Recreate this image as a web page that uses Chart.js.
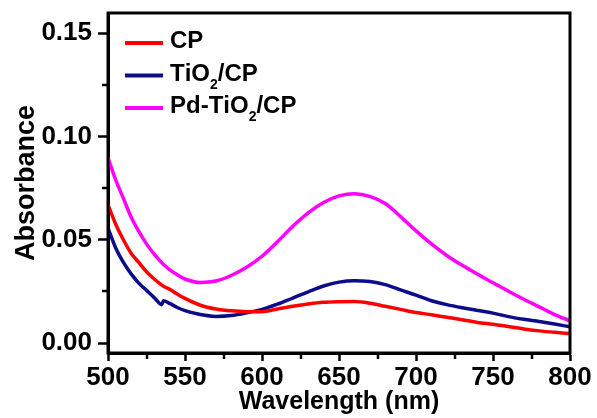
<!DOCTYPE html>
<html>
<head>
<meta charset="utf-8">
<script src="https://cdn.jsdelivr.net/npm/chart.js@4.4.1/dist/chart.umd.min.js"></script>
<style>
  html, body { margin: 0; padding: 0; background: #fff; }
  #wrap { width: 597px; height: 418px; }
</style>
</head>
<body>
<div id="wrap"><canvas id="absChart" width="597" height="418"></canvas></div>
<script>
// UV-vis absorbance spectra
const wavelengths = [500, 505, 510, 515, 520, 525, 530, 535, 536, 540, 545, 550, 560, 570, 580, 590, 600,
  610, 620, 630, 640, 650, 660, 670, 680, 690, 700, 710, 720, 730, 740, 750, 760, 770, 780, 790, 800];

const cpAbs = [0.067, 0.0575, 0.050, 0.0435, 0.039, 0.0345, 0.031, 0.028, 0.0275, 0.026, 0.0237, 0.0216, 0.0183, 0.0165, 0.0156, 0.0152, 0.0152,
  0.0165, 0.0178, 0.0189, 0.0197, 0.0200, 0.0201, 0.0193, 0.0178, 0.0163, 0.0148, 0.0137, 0.0125, 0.0113, 0.0100, 0.0091, 0.0080, 0.0068, 0.0059, 0.0052, 0.0046];

const tio2Abs = [0.0556, 0.046, 0.039, 0.0335, 0.029, 0.0255, 0.022, 0.0186, 0.0205, 0.0192, 0.0172, 0.0157, 0.0138, 0.0129, 0.0133, 0.0146, 0.0163,
  0.0188, 0.0218, 0.0248, 0.0276, 0.0295, 0.0302, 0.0298, 0.0283, 0.0257, 0.0232, 0.0205, 0.0186, 0.0171, 0.0158, 0.0145, 0.0128, 0.0115, 0.0104, 0.0092, 0.0079];

const pdTio2Abs = [0.0896, 0.079, 0.070, 0.061, 0.054, 0.048, 0.043, 0.0388, 0.0381, 0.0355, 0.033, 0.031, 0.0293, 0.030, 0.0327, 0.0367, 0.042,
  0.049, 0.0565, 0.063, 0.068, 0.0712, 0.0723, 0.071, 0.0675, 0.0612, 0.0543, 0.0480, 0.0424, 0.0376, 0.0333, 0.0292, 0.0251, 0.0212, 0.0175, 0.0138, 0.0108];

const seriesLabels = ['CP', 'TiO₂/CP', 'Pd-TiO₂/CP'];
const seriesColors = ['#ff0000', '#0c0c8a', '#ff00ff'];

const xTicks = [500, 550, 600, 650, 700, 750, 800];
const xMinorTicks = [525, 575, 625, 675, 725, 775];
const yTicks = [0, 0.05, 0.10, 0.15];
const yMinorTicks = [0.025, 0.075, 0.125];

const FONT = "'Liberation Sans', Arial, sans-serif";

function toPoints(ys) {
  return wavelengths.map((x, i) => ({ x: x, y: ys[i] }));
}

// closed frame + short minor ticks on the bottom and left axes
const framePlugin = {
  id: 'frame',
  afterDraw(chart) {
    const { ctx, chartArea: a, scales } = chart;
    ctx.save();
    ctx.strokeStyle = '#000';
    ctx.lineWidth = 3;
    ctx.strokeRect(a.left, a.top, a.right - a.left, a.bottom - a.top);
    ctx.lineWidth = 2.5;
    ctx.beginPath();
    xMinorTicks.forEach(v => {
      const px = Math.round(scales.x.getPixelForValue(v));
      ctx.moveTo(px, a.bottom);
      ctx.lineTo(px, a.bottom + 6);
    });
    yMinorTicks.forEach(v => {
      const py = Math.round(scales.y.getPixelForValue(v));
      ctx.moveTo(a.left, py);
      ctx.lineTo(a.left - 6, py);
    });
    ctx.stroke();
    ctx.restore();
  }
};

// writes a label, turning ₂ into a lowered small digit
function drawLabel(ctx, text, x, y) {
  const big = 'bold 24px ' + FONT;
  const small = 'bold 14px ' + FONT;
  for (const ch of text) {
    if (ch === '₂') {
      ctx.font = small;
      ctx.fillText('2', x, y + 8);
      x += ctx.measureText('2').width;
    } else {
      ctx.font = big;
      ctx.fillText(ch, x, y);
      x += ctx.measureText(ch).width;
    }
  }
}

const legendPlugin = {
  id: 'lineLegend',
  afterDatasetsDraw(chart) {
    const { ctx, chartArea: a } = chart;
    ctx.save();
    ctx.textBaseline = 'alphabetic';
    ctx.fillStyle = '#000';
    chart.data.datasets.forEach((ds, i) => {
      const y = a.top + 30 + i * 32.5;
      ctx.strokeStyle = ds.borderColor;
      ctx.lineWidth = 4;
      ctx.beginPath();
      ctx.moveTo(a.left + 17, y);
      ctx.lineTo(a.left + 55, y);
      ctx.stroke();
      drawLabel(ctx, ds.label, a.left + 62, y + 5);
    });
    ctx.restore();
  }
};

new Chart(document.getElementById('absChart'), {
  type: 'line',
  data: {
    datasets: [
      { label: seriesLabels[0], data: toPoints(cpAbs), borderColor: seriesColors[0] },
      { label: seriesLabels[1], data: toPoints(tio2Abs), borderColor: seriesColors[1] },
      { label: seriesLabels[2], data: toPoints(pdTio2Abs), borderColor: seriesColors[2] }
    ]
  },
  options: {
    responsive: false,
    animation: false,
    devicePixelRatio: 1,
    layout: { padding: { top: 13, right: 27, left: 0, bottom: 0 } },
    elements: {
      point: { radius: 0 },
      line: { borderWidth: 3.5, cubicInterpolationMode: 'monotone', fill: false }
    },
    plugins: {
      legend: { display: false },
      tooltip: { enabled: false }
    },
    scales: {
      x: {
        type: 'linear',
        min: 500,
        max: 800,
        afterBuildTicks: s => { s.ticks = xTicks.map(v => ({ value: v })); },
        afterFit: s => { s.height = 65; s.paddingLeft = 0; s.paddingRight = 0; },
        grid: { drawOnChartArea: false, drawTicks: true, tickLength: 8, tickWidth: 2.5, tickColor: '#000' },
        border: { display: true, width: 3, color: '#000' },
        ticks: {
          color: '#000',
          padding: 1,
          maxRotation: 0,
          font: { family: FONT, size: 26, weight: 'bold' },
          callback: v => String(v)
        },
        title: {
          display: true,
          text: 'Wavelength (nm)',
          color: '#000',
          padding: { top: 0, bottom: 1 },
          font: { family: FONT, size: 25, weight: 'bold' }
        }
      },
      y: {
        min: -0.0048,
        max: 0.1597,
        afterBuildTicks: s => { s.ticks = yTicks.map(v => ({ value: v })); },
        afterFit: s => { s.width = 108; s.paddingTop = 0; s.paddingBottom = 0; },
        grid: { drawOnChartArea: false, drawTicks: true, tickLength: 10, tickWidth: 2.5, tickColor: '#000' },
        border: { display: true, width: 3, color: '#000' },
        ticks: {
          color: '#000',
          padding: 6,
          font: { family: FONT, size: 26, weight: 'bold' },
          callback: v => v.toFixed(2)
        },
        title: {
          display: true,
          text: 'Absorbance',
          color: '#000',
          padding: { top: 10, bottom: 0 },
          font: { family: FONT, size: 27, weight: 'bold' }
        }
      }
    }
  },
  plugins: [framePlugin, legendPlugin]
});
</script>
</body>
</html>
